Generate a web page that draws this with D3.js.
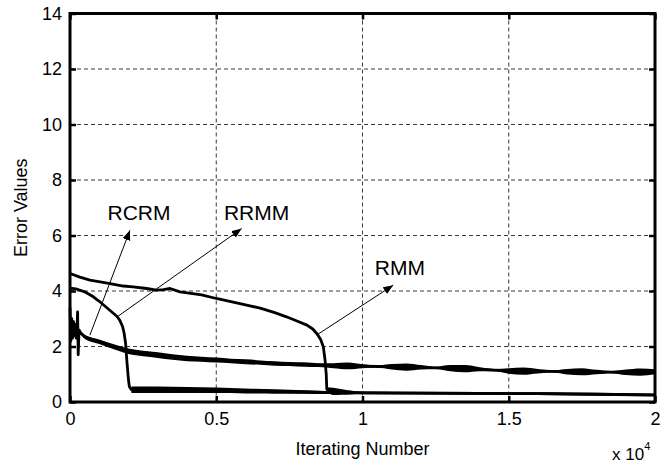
<!DOCTYPE html>
<html>
<head>
<meta charset="utf-8">
<script src="https://cdn.jsdelivr.net/npm/d3@7"></script>
<style>
  body { margin: 0; background: #fff; }
  svg text { font-family: "Liberation Sans", Arial, sans-serif; fill: #000; }
</style>
</head>
<body>
<svg id="chart" width="667" height="468"></svg>
<script>
// Error curves of three methods, x in units of 10^4 iterations

// Axis ticks
const xTicks = [0, 0.5, 1, 1.5, 2];
const xTickLabels = ["0", "0.5", "1", "1.5", "2"];
const yTicks = [0, 2, 4, 6, 8, 10, 12, 14];
const yTickLabels = ["0", "2", "4", "6", "8", "10", "12", "14"];

// RCRM: noisy start, then slow decay with a wobbling band
const rcrmX = [0, 0.003, 0.006, 0.009, 0.012, 0.015, 0.018, 0.021, 0.024, 0.026, 0.028, 0.031, 0.036,
  0.05, 0.1, 0.15, 0.2, 0.25, 0.3, 0.35, 0.4, 0.45, 0.5, 0.55, 0.6, 0.65, 0.7, 0.75, 0.8, 0.85, 0.9, 0.95,
  1.0, 1.05, 1.1, 1.15, 1.2, 1.25, 1.3, 1.35, 1.4, 1.45, 1.5, 1.55, 1.6, 1.65, 1.7, 1.75, 1.8, 1.85, 1.9, 1.95, 2.0];
const rcrmY = [3.4, 2.2, 3.0, 2.3, 2.9, 2.4, 2.8, 2.3, 2.7, 3.25, 1.7, 2.6, 2.5,
  2.35, 2.17, 1.99, 1.83, 1.75, 1.69, 1.62, 1.57, 1.54, 1.51, 1.48, 1.45, 1.42, 1.39, 1.37, 1.35, 1.33, 1.31, 1.3,
  1.29, 1.28, 1.27, 1.26, 1.25, 1.23, 1.22, 1.2, 1.18, 1.15, 1.12, 1.11, 1.11, 1.1, 1.09, 1.09, 1.08, 1.08, 1.07, 1.08, 1.09];
const rcrmSpread = [0, 0, 0, 0, 0, 0, 0, 0, 0, 0, 0, 0, 0.06,
  0.07, 0.08, 0.09, 0.1, 0.1, 0.1, 0.1, 0.1, 0.09, 0.09, 0.08, 0.09, 0.08, 0.08, 0.07, 0.08, 0.07, 0.09, 0.12,
  0.07, 0.04, 0.1, 0.13, 0.08, 0.04, 0.11, 0.13, 0.07, 0.04, 0.1, 0.13, 0.08, 0.04, 0.1, 0.13, 0.08, 0.04, 0.1, 0.13, 0.09];

// RRMM: starts near 4, drops sharply around 0.2
const rrmmX = [0, 0.02, 0.05, 0.08, 0.1, 0.12, 0.14, 0.16, 0.17, 0.18, 0.185, 0.19, 0.195, 0.2, 0.203,
  0.21, 0.25, 0.3, 0.4, 0.5, 0.6, 0.7, 0.8, 0.9, 1.0, 1.2, 1.4, 1.6, 1.8, 2.0];
const rrmmY = [4.1, 4.08, 3.97, 3.79, 3.63, 3.45, 3.27, 3.09, 2.95, 2.71, 2.48, 2.12, 1.4, 0.79, 0.55,
  0.44, 0.44, 0.44, 0.43, 0.42, 0.4, 0.38, 0.36, 0.34, 0.33, 0.32, 0.31, 0.3, 0.28, 0.26];
const rrmmSpread = [0, 0, 0, 0, 0, 0, 0, 0, 0, 0, 0, 0, 0, 0, 0,
  0.12, 0.12, 0.12, 0.11, 0.1, 0.09, 0.08, 0.06, 0.05, 0.04, 0.03, 0.03, 0.03, 0.03, 0.03];

// RMM: starts near 4.6, drops sharply around 0.88
const rmmX = [0, 0.034, 0.068, 0.103, 0.137, 0.182, 0.216, 0.262, 0.296, 0.319, 0.342, 0.376, 0.45, 0.5,
  0.55, 0.6, 0.65, 0.7, 0.74, 0.78, 0.81, 0.83, 0.845, 0.857, 0.866, 0.872, 0.876, 0.878,
  0.9, 0.93, 0.96, 1.0, 1.2, 1.4, 1.6, 1.8, 2.0];
const rmmY = [4.63, 4.5, 4.39, 4.33, 4.27, 4.18, 4.15, 4.09, 4.03, 4.05, 4.09, 3.97, 3.86, 3.73,
  3.62, 3.5, 3.38, 3.22, 3.07, 2.9, 2.77, 2.63, 2.45, 2.25, 1.99, 1.51, 1.0, 0.45,
  0.38, 0.36, 0.34, 0.33, 0.32, 0.31, 0.3, 0.28, 0.25];
const rmmSpread = [0, 0, 0, 0, 0, 0, 0, 0, 0, 0, 0, 0, 0, 0,
  0, 0, 0, 0, 0, 0, 0, 0, 0, 0, 0, 0, 0, 0.08,
  0.13, 0.1, 0.07, 0.03, 0.03, 0.03, 0.03, 0.03, 0.03];

// Annotations: label, label position, arrow start, arrow tip (data units)
const annoNames = ["RCRM", "RRMM", "RMM"];
const annoLabelX = [0.236, 0.638, 1.128];
const annoLabelY = [6.57, 6.57, 4.57];
const annoFrom = [[0.068, 2.41], [0.16, 3.06], [0.843, 2.41]];
const annoTo = [[0.205, 6.19], [0.587, 6.25], [1.105, 4.21]];

// Layout
const svg = d3.select("#chart");
const margin = {left: 70, right: 12, top: 13.5, bottom: 66};
const W = 667, H = 468;

const x = d3.scaleLinear().domain([0, 2]).range([margin.left, W - margin.right]);
const y = d3.scaleLinear().domain([0, 14]).range([H - margin.bottom, margin.top]);

// Grid (dashed)
const grid = svg.append("g").attr("stroke", "#222").attr("stroke-width", 0.9).attr("stroke-dasharray", "4,3");
grid.selectAll(".gx").data(xTicks.slice(1, -1)).enter().append("line")
    .attr("x1", d => x(d)).attr("x2", d => x(d))
    .attr("y1", y(14)).attr("y2", y(0));
grid.selectAll(".gy").data(yTicks.slice(1, -1)).enter().append("line")
    .attr("x1", x(0)).attr("x2", x(2))
    .attr("y1", d => y(d)).attr("y2", d => y(d));

// Series drawing
function drawSeries(xs, ys, spread) {
    const pts = xs.map((v, i) => ({x: v, y: ys[i], s: spread[i]}));
    const band = pts.filter(p => p.s > 0);
    svg.append("path")
        .datum(band)
        .attr("fill", "#000")
        .attr("d", d3.area().curve(d3.curveMonotoneX)
            .x(p => x(p.x)).y0(p => y(p.y - p.s)).y1(p => y(p.y + p.s)));
    svg.append("path")
        .datum(pts)
        .attr("fill", "none")
        .attr("stroke", "#000")
        .attr("stroke-width", 2.8)
        .attr("stroke-linejoin", "round")
        .attr("d", d3.line().x(p => x(p.x)).y(p => y(p.y)));
}
drawSeries(rmmX, rmmY, rmmSpread);
drawSeries(rrmmX, rrmmY, rrmmSpread);
drawSeries(rcrmX, rcrmY, rcrmSpread);

// Axes box and ticks
const fs = 18;
const axL = svg.append("g").attr("transform", `translate(${x(0)},0)`)
    .call(d3.axisLeft(y).tickValues(yTicks).tickFormat((d, i) => yTickLabels[i]).tickSize(-6).tickPadding(8));
const axB = svg.append("g").attr("transform", `translate(0,${y(0)})`)
    .call(d3.axisBottom(x).tickValues(xTicks).tickFormat((d, i) => xTickLabels[i]).tickSize(-6).tickPadding(10));
const axR = svg.append("g").attr("transform", `translate(${x(2)},0)`)
    .call(d3.axisRight(y).tickValues(yTicks).tickFormat("").tickSize(-6));
const axT = svg.append("g").attr("transform", `translate(0,${y(14)})`)
    .call(d3.axisTop(x).tickValues(xTicks).tickFormat("").tickSize(-6));
[axL, axB, axR, axT].forEach(a => {
    a.select(".domain").remove();
    a.selectAll(".tick line").attr("stroke", "#000").attr("stroke-width", 2.5);
    a.selectAll("text").attr("font-size", fs).attr("font-family", null);
});

svg.append("rect")
    .attr("x", x(0)).attr("y", y(14))
    .attr("width", x(2) - x(0)).attr("height", y(0) - y(14))
    .attr("fill", "none").attr("stroke", "#000").attr("stroke-width", 3);

// Axis labels
svg.append("text")
    .attr("x", (x(0) + x(2)) / 2).attr("y", 455)
    .attr("text-anchor", "middle").attr("font-size", fs)
    .text("Iterating Number");
svg.append("text")
    .attr("transform", `translate(27,${(y(0) + y(14)) / 2}) rotate(-90)`)
    .attr("text-anchor", "middle").attr("font-size", fs)
    .text("Error Values");
const mult = svg.append("text").attr("x", 612).attr("y", 460).attr("font-size", 17);
mult.append("tspan").text("x 10");
mult.append("tspan").attr("dy", -10).attr("font-size", 11).text("4");

// Arrow annotations
svg.append("defs").append("marker")
    .attr("id", "arrow")
    .attr("markerUnits", "userSpaceOnUse")
    .attr("markerWidth", 12).attr("markerHeight", 10)
    .attr("refX", 10).attr("refY", 4)
    .attr("orient", "auto")
    .append("path").attr("d", "M0,0 L10,4 L0,8 Z").attr("fill", "#000");

annoNames.forEach((name, i) => {
    svg.append("line")
        .attr("x1", x(annoFrom[i][0])).attr("y1", y(annoFrom[i][1]))
        .attr("x2", x(annoTo[i][0])).attr("y2", y(annoTo[i][1]))
        .attr("stroke", "#000").attr("stroke-width", 1)
        .attr("marker-end", "url(#arrow)");
    svg.append("text")
        .attr("x", x(annoLabelX[i])).attr("y", y(annoLabelY[i]))
        .attr("text-anchor", "middle").attr("font-size", 21)
        .text(name);
});
</script>
</body>
</html>
